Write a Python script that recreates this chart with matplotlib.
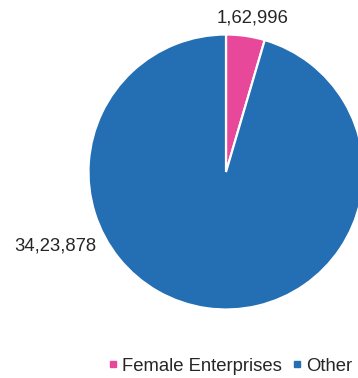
import matplotlib.pyplot as plt
from matplotlib.lines import Line2D

plt.rcParams["font.family"] = ["Liberation Sans", "DejaVu Sans"]

# ---------------------------
# Data
# ---------------------------
categories = ["Female Enterprises", "Other"]
values = [162996, 3423878]
colors = ["#e8489a", "#246eb4"]
value_labels = ["1,62,996", "34,23,878"]

# ---------------------------
# Figure in pixel-like coordinates
# ---------------------------
W, H = 358, 378
fig = plt.figure(figsize=(W / 100, H / 100), dpi=100)
ax = fig.add_axes([0, 0, 1, 1])

cx, cy, r = 226, H - 172, 137.5
ax.pie(
    values,
    colors=colors,
    startangle=90,
    counterclock=False,
    center=(cx, cy),
    radius=r,
    wedgeprops={"edgecolor": "white", "linewidth": 1.6},
)
ax.set_xlim(0, W)
ax.set_ylim(0, H)
ax.set_aspect("equal")
ax.axis("off")

fs = 13.3
txt_color = "#262626"

# value labels
ax.text(253, H - 18, value_labels[0], ha="center", va="center",
        fontsize=fs, color=txt_color)
ax.text(55, H - 246, value_labels[1], ha="center", va="center",
        fontsize=fs, color=txt_color)

# legend
handles = [
    Line2D([], [], marker="s", linestyle="none", markersize=5,
           markerfacecolor=c, markeredgecolor=c)
    for c in colors
]
ax.legend(handles, categories, loc="lower right", ncol=2, frameon=False,
          fontsize=fs, handlelength=0.5, handletextpad=0.25,
          columnspacing=0.55, bbox_to_anchor=(1.03, -0.035),
          labelcolor=txt_color)

fig.savefig("out.png", dpi=100)
